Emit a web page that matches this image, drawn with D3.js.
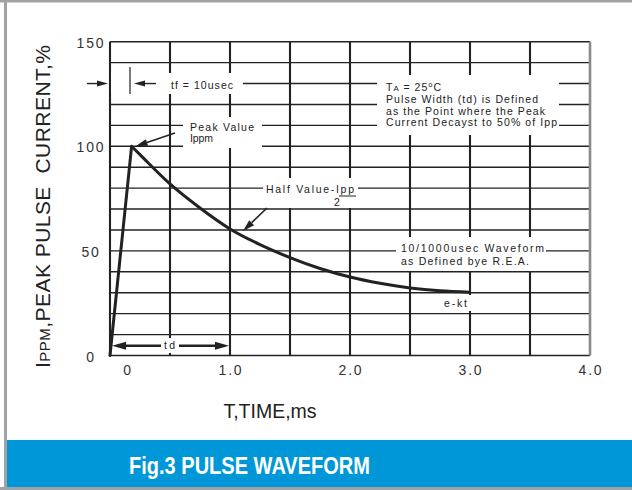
<!DOCTYPE html>
<html>
<head>
<meta charset="utf-8">
<script src="https://cdn.jsdelivr.net/npm/d3@7"></script>
<style>
  html, body { margin: 0; padding: 0; background: #fff; }
  svg { display: block; font-family: Arial, "Liberation Sans", sans-serif; }
  text { white-space: pre; }
</style>
</head>
<body>
<svg id="chart" width="632" height="490"></svg>
<script>
// pulse waveform
var timeMs = [0, 0.18, 0.25, 0.5, 0.75, 1.0, 1.25, 1.5, 1.75, 2.0, 2.25, 2.5, 2.75, 3.0];
var pulsePct = [0, 100, 96, 82, 70.5, 60.5, 53, 46.8, 41.6, 37.5, 34.5, 32.3, 30.9, 30.2];

var xTicks = [0, 1, 2, 3, 4];
var xTickLabels = ["0", "1.0", "2.0", "3.0", "4.0"];
var yTicks = [0, 50, 100, 150];
var yTickLabels = ["0", "50", "100", "150"];
var xGrid = [0, 0.5, 1, 1.5, 2, 2.5, 3, 3.5, 4];
var yGrid = [0, 10, 20, 30, 40, 50, 60, 70, 80, 90, 100, 110, 120, 130, 140, 150];

var svg = d3.select("#chart");
var x = d3.scaleLinear().domain([0, 4]).range([110, 590]);
var y = d3.scaleLinear().domain([0, 150]).range([355.5, 41.7]);

var ink = "#222";

// frame
svg.append("rect").attr("x", 0).attr("y", 0).attr("width", 632).attr("height", 490).attr("fill", "#fff");
svg.append("rect").attr("x", 0).attr("y", 0).attr("width", 632).attr("height", 2.5).attr("fill", "#a2a2a6");
svg.append("rect").attr("x", 4).attr("y", 0).attr("width", 3).attr("height", 490).attr("fill", "#a2a2a6");
svg.append("rect").attr("x", 0).attr("y", 487).attr("width", 632).attr("height", 3).attr("fill", "#a2a2a6");

// grid
var grid = svg.append("g");
grid.selectAll("line.h").data(yGrid).enter().append("line")
  .attr("class", "h")
  .attr("x1", x(0)).attr("x2", x(4))
  .attr("y1", function (d) { return y(d); })
  .attr("y2", function (d) { return y(d); })
  .style("stroke", ink).style("stroke-width", 1.4);
grid.selectAll("line.v").data(xGrid).enter().append("line")
  .attr("class", "v")
  .attr("x1", function (d) { return x(d); })
  .attr("x2", function (d) { return x(d); })
  .attr("y1", y(150)).attr("y2", y(0))
  .style("stroke", function (d) { return d === 4 ? "#8a8a8a" : ink; })
  .style("stroke-width", function (d) { return d === 4 ? 2.6 : 2.1; });

// white knockouts behind the notes
var knock = [
  [111, 73, 243, 94],
  [183, 117, 262, 148],
  [263, 178, 358, 208],
  [377, 75, 559, 135],
  [396, 237, 546, 271],
  [440, 295, 475, 311],
  [161, 338, 179, 353]
];
svg.append("g").selectAll("rect").data(knock).enter().append("rect")
  .attr("x", function (d) { return d[0]; })
  .attr("y", function (d) { return d[1]; })
  .attr("width", function (d) { return d[2] - d[0]; })
  .attr("height", function (d) { return d[3] - d[1]; })
  .attr("fill", "#fff");

// curve: straight rise, smooth decay
var pts = timeMs.map(function (t, i) { return [t, pulsePct[i]]; });
var line = d3.line().x(function (d) { return x(d[0]); }).y(function (d) { return y(d[1]); });
svg.append("path")
  .attr("d", line.curve(d3.curveLinear)(pts.slice(0, 2)))
  .attr("fill", "none").attr("stroke", ink).attr("stroke-width", 3).attr("stroke-linecap", "round");
svg.append("path")
  .attr("d", line.curve(d3.curveMonotoneX)(pts.slice(1)))
  .attr("fill", "none").attr("stroke", ink).attr("stroke-width", 3).attr("stroke-linejoin", "round");

// arrows
function arrow(x1, y1, x2, y2, len, half, w) {
  var a = Math.atan2(y2 - y1, x2 - x1);
  var bx = x2 - len * Math.cos(a), by = y2 - len * Math.sin(a);
  svg.append("line").attr("x1", x1).attr("y1", y1).attr("x2", bx).attr("y2", by)
    .style("stroke", ink).style("stroke-width", w);
  var px = -Math.sin(a) * half, py = Math.cos(a) * half;
  svg.append("path")
    .attr("d", "M" + x2 + "," + y2 + "L" + (bx + px) + "," + (by + py) + "L" + (bx - px) + "," + (by - py) + "Z")
    .attr("fill", ink);
}

var yTf = y(130);
arrow(87, yTf, 108, yTf, 11, 3, 1.4);
arrow(156, yTf, 134, yTf, 11, 3, 1.4);
svg.append("line").attr("x1", 130).attr("x2", 130).attr("y1", 67).attr("y2", 94)
  .style("stroke", ink).style("stroke-width", 1.2);

arrow(175, 133, x(timeMs[1]) + 4, y(100), 12, 3.5, 1.6);
arrow(267, 208, x(1) + 13, y(60) + 1, 12, 3.5, 1.6);

var yTd = 345.7;
arrow(161, yTd, x(0) + 2, yTd, 14, 4, 2.6);
arrow(179, yTd, x(1) - 1, yTd, 14, 4, 2.6);

// notes
function note(tx, ty, str, size, len) {
  var t = svg.append("text").attr("x", tx).attr("y", ty)
    .style("font-size", size + "px").attr("fill", ink).text(str);
  if (len) t.attr("textLength", len).attr("lengthAdjust", "spacing");
  return t;
}

note(171, 89, "tf = 10usec", 10.5, 62);
note(190, 131, "Peak Value", 10.5, 64);
note(190, 142, "Ippm", 10.5, 23);

note(266, 193, "Half Value-Ipp", 10.5, 88);
svg.append("line").attr("x1", 339).attr("x2", 356).attr("y1", 196).attr("y2", 196)
  .style("stroke", ink).style("stroke-width", 1);
note(334, 206, "2", 10.5);

var ta = svg.append("text").attr("x", 386).attr("y", 91).attr("fill", ink).style("font-size", "10.5px")
  .attr("textLength", 55).attr("lengthAdjust", "spacing");
ta.append("tspan").text("T");
ta.append("tspan").style("font-size", "8px").text("A");
ta.append("tspan").text(" = 25");
ta.append("tspan").style("font-size", "7.5px").attr("dy", -4.5).text("o");
ta.append("tspan").attr("dy", 4.5).text("C");
note(386, 103, "Pulse Width (td) is Defined", 10.5, 152);
note(386, 114.5, "as the Point where the Peak", 10.5, 159);
note(386, 126, "Current Decayst to 50% of Ipp", 10.5, 171);

note(401, 252, "10/1000usec Waveform", 10.5, 143);
note(401, 265, "as Defined bye R.E.A.", 10.5, 128);
note(444, 307, "e-kt", 10.5, 23);
note(164, 349, "td", 10.5, 11);

// tick labels
svg.append("g").selectAll("text").data(yTicks).enter().append("text")
  .attr("x", 91)
  .attr("y", function (d) { return y(d) + 6; })
  .attr("text-anchor", "middle")
  .style("font-size", "14px").style("letter-spacing", "1.8px")
  .attr("fill", "#333")
  .text(function (d, i) { return yTickLabels[i]; });

svg.append("g").selectAll("text").data(xTicks).enter().append("text")
  .attr("x", function (d) { return x(d) + (d === 0 ? 18 : 1); })
  .attr("y", 375)
  .attr("text-anchor", "middle")
  .style("font-size", "14px").style("letter-spacing", "1.8px")
  .attr("fill", "#333")
  .text(function (d, i) { return xTickLabels[i]; });

// axis titles
svg.append("text").attr("x", 270).attr("y", 418).attr("text-anchor", "middle")
  .style("font-size", "19.5px").attr("fill", ink).text("T,TIME,ms");

var yl = svg.append("text").attr("transform", "translate(50,206.5) rotate(-90)")
  .attr("text-anchor", "middle").attr("fill", ink).style("font-size", "21px")
  .attr("textLength", 323).attr("lengthAdjust", "spacing");
yl.append("tspan").text("I");
yl.append("tspan").style("font-size", "15px").text("PPM");
yl.append("tspan").text(",PEAK PULSE  CURRENT,%");

// caption band
svg.append("rect").attr("x", 7).attr("y", 440).attr("width", 625).attr("height", 47).attr("fill", "#0097d9");
svg.append("text").attr("x", 249.5).attr("y", 473.5).attr("text-anchor", "middle")
  .style("font-family", "'Liberation Sans Narrow', Arial, sans-serif")
  .style("font-size", "23px").style("font-weight", "bold").attr("fill", "#fff")
  .attr("textLength", 241).attr("lengthAdjust", "spacingAndGlyphs")
  .text("Fig.3 PULSE WAVEFORM");
</script>
</body>
</html>
